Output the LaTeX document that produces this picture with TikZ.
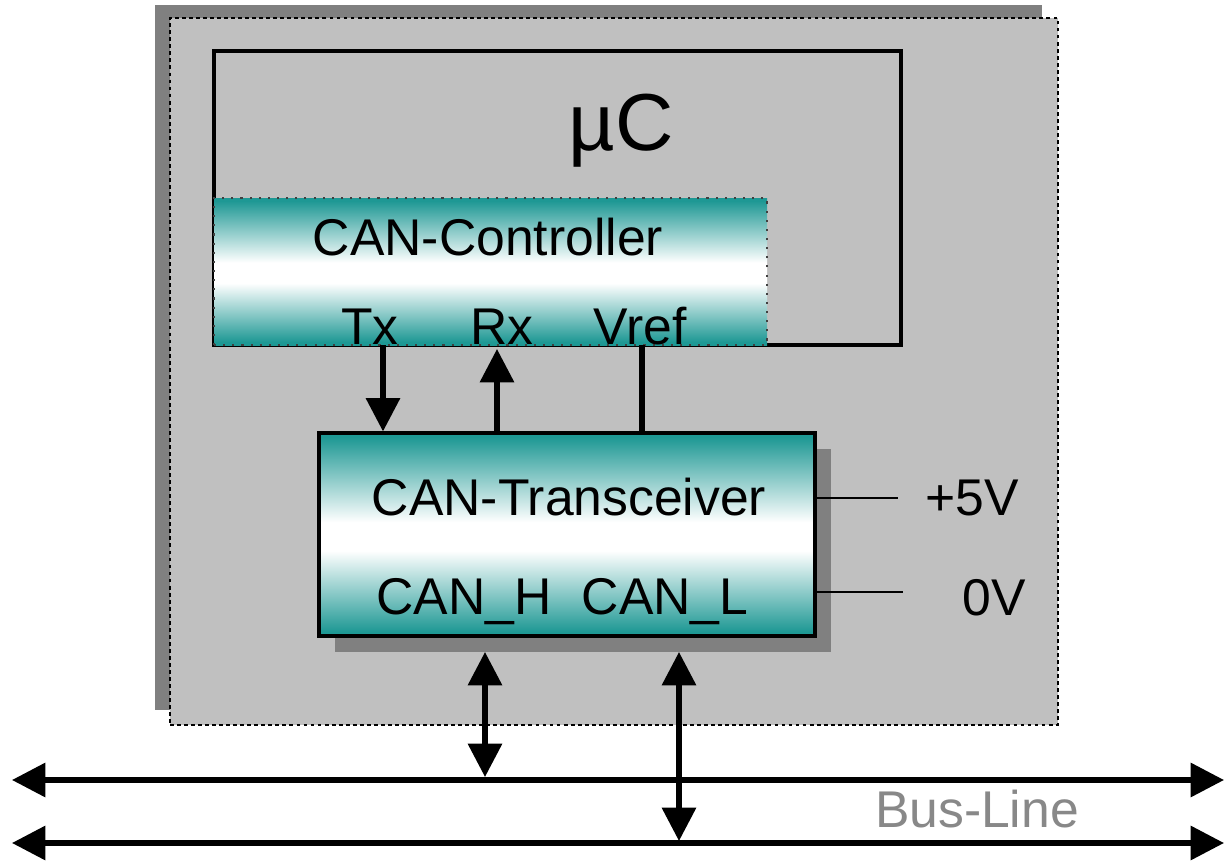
\documentclass[tikz,border=0pt]{standalone}
\usepackage{fontspec}
\setmainfont{Liberation Sans}
\usetikzlibrary{arrows.meta}
\definecolor{canteal}{RGB}{30,152,148}
\definecolor{boardgray}{RGB}{192,192,192}
\definecolor{shadowgray}{RGB}{128,128,128}
\definecolor{busgray}{RGB}{136,136,136}
\pgfdeclareverticalshading{tealband}{100bp}{color(0bp)=(canteal); color(26bp)=(canteal); color(46bp)=(white); color(53bp)=(white); color(74bp)=(canteal); color(100bp)=(canteal)}
\begin{document}
\begin{tikzpicture}[
            board/.style={fill=boardgray, draw=black, line width=0.8pt, dash pattern=on 1.1pt off 0.9pt, inner sep=0pt},
            chip/.style={draw=black, line width=0.9pt, inner sep=0pt},
            block/.style={shading=tealband},
            txt/.style={font=\fontsize{14.7}{17}\selectfont, inner sep=0pt, anchor=base},
            sig/.style={line width=1.5pt, -{Triangle[width=9.5pt,length=9.5pt]}},
            bus/.style={line width=1.5pt, {Triangle[width=9.5pt,length=9.5pt]}-{Triangle[width=9.5pt,length=9.5pt]}},
            rail/.style={line width=0.6pt}
            ]
            \useasboundingbox[fill=white] (0,0) rectangle (12.26,8.62);

            \fill[shadowgray] (1.55,1.52) rectangle (10.42,8.57);
            \node[board, minimum width=8.88cm, minimum height=7.07cm] (board) at (6.14,4.905) {};

            \node[chip, minimum width=6.87cm, minimum height=2.94cm] (mc) at (5.575,6.64) {};
            \node[font=\fontsize{23}{27}\selectfont, inner sep=0pt, anchor=base] (mclabel) at (6.21,7.12) {µC};

            \node[block, draw=black!75, dotted, line width=0.6pt, inner sep=0pt, minimum width=5.53cm, minimum height=1.47cm] (ctrl) at (4.905,5.905) {};
            \node[txt] (ctrllabel) at (4.88,6.07) {CAN-Controller};
            \node[txt] (tx) at (3.70,5.18) {Tx};
            \node[txt] (rx) at (5.02,5.18) {Rx};
            \node[txt] (vref) at (6.40,5.18) {Vref};

            \fill[shadowgray] (3.35,2.10) rectangle (8.31,4.13);
            \node[block, chip, minimum width=4.96cm, minimum height=2.03cm] (trx) at (5.67,3.275) {};
            \node[txt] (trxlabel) at (5.69,3.47) {CAN-Transceiver};
            \node[txt] (canh) at (4.64,2.48) {CAN\_H};
            \node[txt] (canl) at (6.65,2.48) {CAN\_L};

            \node[txt] (vcclabel) at (9.72,3.47) {+5V};
            \node[txt] (gndlabel) at (9.94,2.47) {0V};
            \coordinate (vcc) at (8.98,3.64);
            \coordinate (gnd) at (9.03,2.70);
            \draw[rail] (vcc -| trx.east) -- (vcc);
            \draw[rail] (gnd -| trx.east) -- (gnd);

            \coordinate (txp) at (3.83,5.17);
            \coordinate (rxp) at (4.97,5.17);
            \coordinate (vrefp) at (6.42,5.17);
            \draw[sig] (txp) -- (txp |- trx.north);
            \draw[sig] (rxp |- trx.north) -- ([yshift=-0.04cm]rxp);
            \draw[line width=1.5pt] (vrefp) -- (vrefp |- trx.north);

            \coordinate (busHw) at (0.12,0.82);
            \coordinate (busHe) at (12.24,0.82);
            \coordinate (busLw) at (0.12,0.19);
            \coordinate (busLe) at (12.24,0.19);
            \draw[bus] (busHw) -- (busHe);
            \draw[bus] (busLw) -- (busLe);
            \node[txt, text=busgray] (buslabel) at (9.77,0.35) {Bus-Line};

            \coordinate (hpin) at (4.85,2.10);
            \coordinate (lpin) at (6.79,2.10);
            \draw[bus] (hpin) -- ([yshift=0.03cm]hpin |- busHw);
            \draw[bus] (lpin) -- ([yshift=0.02cm]lpin |- busLw);

            \end{tikzpicture}
\end{document}
